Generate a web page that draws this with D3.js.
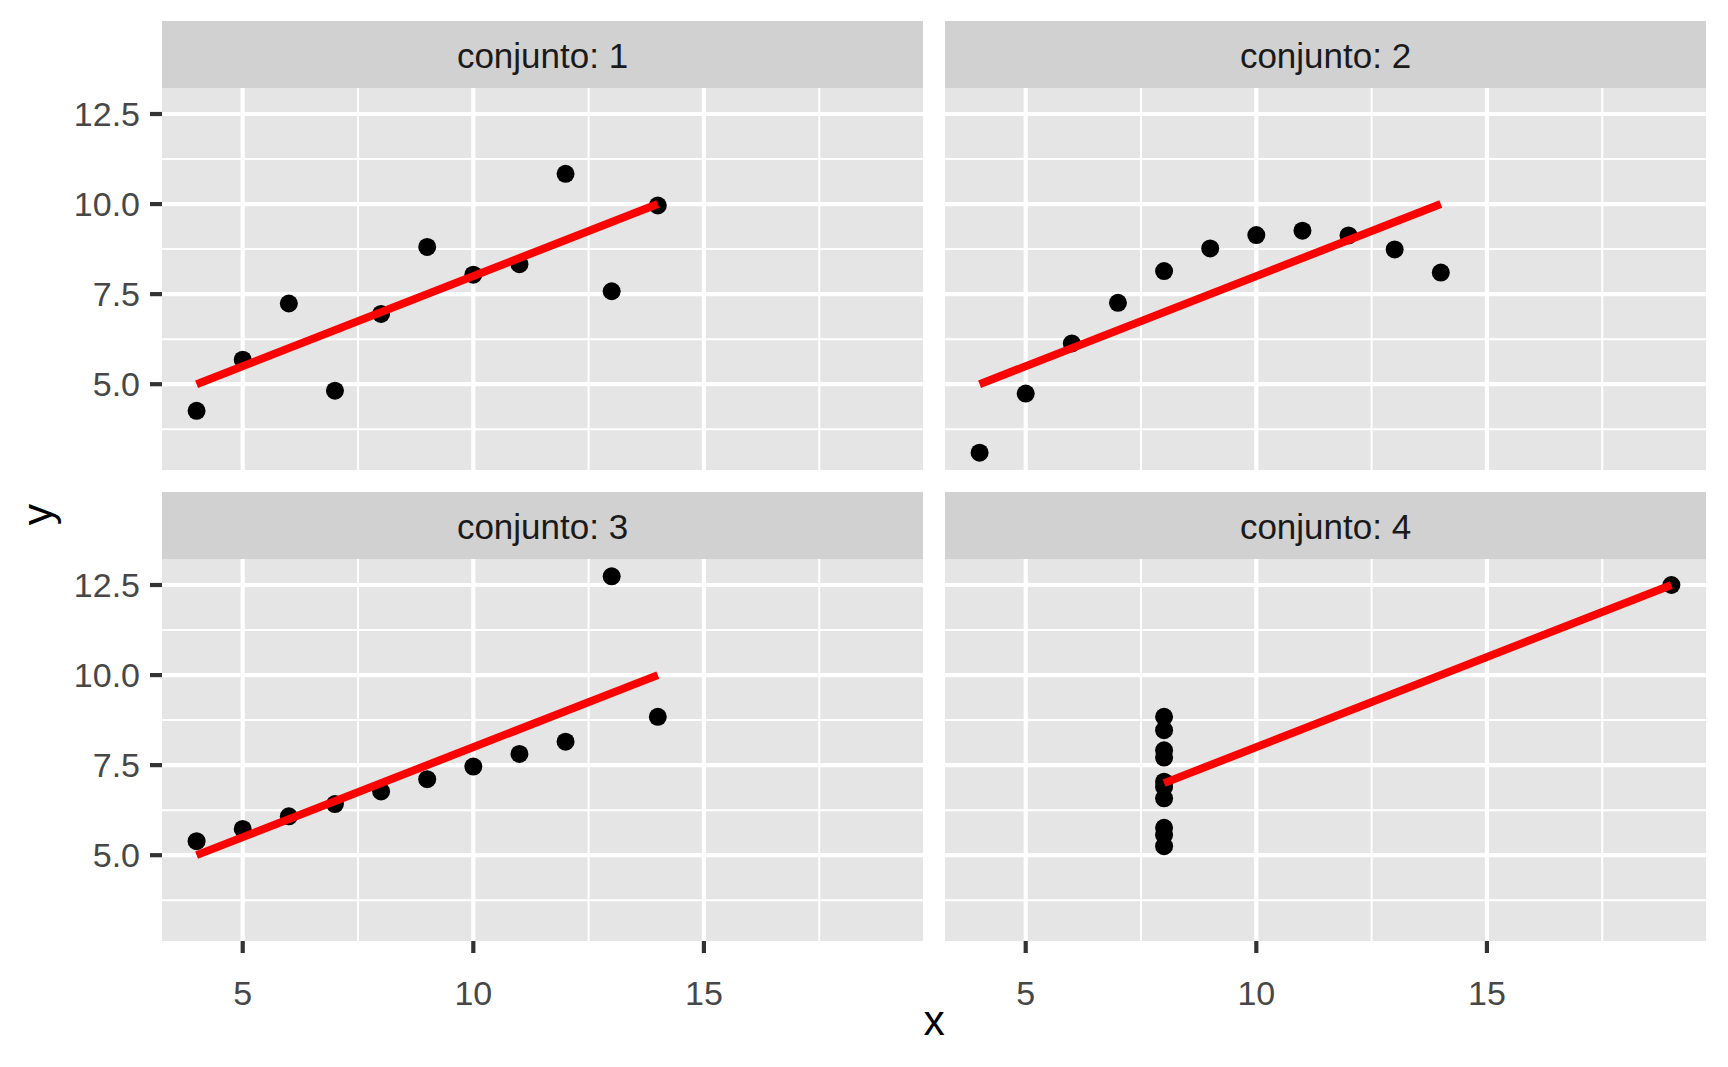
<!DOCTYPE html>
<html>
<head>
    <title>conjunto 1-4</title>
    <script src="https://d3js.org/d3.v7.min.js"></script>
    <style>
        body { margin: 0; background: #fff; }
        text { font-family: "Liberation Sans", Arial, sans-serif; }
    </style>
</head>
<body>
<div id="my_dataviz"></div>

<script>
    // data (Anscombe's quartet)
    var sets = ["1", "2", "3", "4"];
    var x123 = [10, 8, 13, 9, 11, 14, 6, 4, 12, 7, 5];
    var y1 = [8.04, 6.95, 7.58, 8.81, 8.33, 9.96, 7.24, 4.26, 10.84, 4.82, 5.68];
    var y2 = [9.14, 8.14, 8.74, 8.77, 9.26, 8.10, 6.13, 3.10, 9.13, 7.26, 4.74];
    var y3 = [7.46, 6.77, 12.74, 7.11, 7.81, 8.84, 6.08, 5.39, 8.15, 6.42, 5.73];
    var x4 = [8, 8, 8, 8, 8, 8, 8, 19, 8, 8, 8];
    var y4 = [6.58, 5.76, 7.71, 8.84, 8.47, 7.04, 5.25, 12.50, 5.56, 7.91, 6.89];

    var xTicks = [5, 10, 15];
    var xMinor = [7.5, 12.5, 17.5];
    var yTicks = [5, 7.5, 10, 12.5];
    var yMinor = [3.75, 6.25, 8.75, 11.25];
    var yLabels = ["5.0", "7.5", "10.0", "12.5"];

    var xs = [x123, x123, x123, x4];
    var ys = [y1, y2, y3, y4];

    // layout
    var W = 1728, H = 1067;
    var colLeft = [162, 945], rowTop = [21, 492];
    var panelW = 761, stripH = 67, panelH = 382;

    var svg = d3.select("#my_dataviz")
        .append("svg")
        .attr("width", W)
        .attr("height", H);

    // shared scales with ggplot style 5% expansion
    var allX = d3.merge(xs), allY = d3.merge(ys);
    var xe = d3.extent(allX), ye = d3.extent(allY);
    var xpad = (xe[1] - xe[0]) * 0.05, ypad = (ye[1] - ye[0]) * 0.05;

    var x = d3.scaleLinear()
        .domain([xe[0] - xpad, xe[1] + xpad])
        .range([0, panelW]);
    var y = d3.scaleLinear()
        .domain([ye[0] - ypad, ye[1] + ypad])
        .range([panelH, 0]);

    sets.forEach(function(s, i) {
        var col = i % 2, row = Math.floor(i / 2);
        var px = colLeft[col], py = rowTop[row];

        // strip
        svg.append("rect")
            .attr("x", px).attr("y", py)
            .attr("width", panelW).attr("height", stripH)
            .attr("fill", "#D1D1D1");
        svg.append("text")
            .attr("x", px + panelW / 2)
            .attr("y", py + stripH / 2 + 1)
            .attr("dy", "0.36em")
            .attr("text-anchor", "middle")
            .attr("font-size", 35)
            .attr("fill", "#1A1A1A")
            .text("conjunto: " + s);

        var g = svg.append("g")
            .attr("transform", "translate(" + px + "," + (py + stripH) + ")");

        g.append("rect")
            .attr("width", panelW).attr("height", panelH)
            .attr("fill", "#E5E5E5");

        // grid
        g.selectAll(".xminor").data(xMinor).enter().append("line")
            .attr("x1", d => x(d)).attr("x2", d => x(d))
            .attr("y1", 0).attr("y2", panelH)
            .attr("stroke", "#fff").attr("stroke-width", 2);
        g.selectAll(".yminor").data(yMinor).enter().append("line")
            .attr("x1", 0).attr("x2", panelW)
            .attr("y1", d => y(d)).attr("y2", d => y(d))
            .attr("stroke", "#fff").attr("stroke-width", 2);
        g.selectAll(".xmajor").data(xTicks).enter().append("line")
            .attr("x1", d => x(d)).attr("x2", d => x(d))
            .attr("y1", 0).attr("y2", panelH)
            .attr("stroke", "#fff").attr("stroke-width", 4.2);
        g.selectAll(".ymajor").data(yTicks).enter().append("line")
            .attr("x1", 0).attr("x2", panelW)
            .attr("y1", d => y(d)).attr("y2", d => y(d))
            .attr("stroke", "#fff").attr("stroke-width", 4.2);

        // points
        var pts = xs[i].map(function(v, k) { return {x: v, y: ys[i][k]}; });
        g.selectAll("circle").data(pts).enter().append("circle")
            .attr("cx", d => x(d.x))
            .attr("cy", d => y(d.y))
            .attr("r", 9)
            .attr("fill", "#000");

        // least squares line over the range of x
        var mx = d3.mean(xs[i]), my = d3.mean(ys[i]);
        var sxy = d3.sum(pts, d => (d.x - mx) * (d.y - my));
        var sxx = d3.sum(pts, d => (d.x - mx) * (d.x - mx));
        var b = sxy / sxx, a = my - b * mx;
        var ext = d3.extent(xs[i]);
        g.append("line")
            .attr("x1", x(ext[0])).attr("y1", y(a + b * ext[0]))
            .attr("x2", x(ext[1])).attr("y2", y(a + b * ext[1]))
            .attr("stroke", "#FF0000")
            .attr("stroke-width", 8);

        // y axis on left column
        if (col === 0) {
            yTicks.forEach(function(t, k) {
                g.append("line")
                    .attr("x1", -12).attr("x2", 0)
                    .attr("y1", y(t)).attr("y2", y(t))
                    .attr("stroke", "#333333").attr("stroke-width", 4.2);
                g.append("text")
                    .attr("x", -22).attr("y", y(t))
                    .attr("dy", "0.36em")
                    .attr("text-anchor", "end")
                    .attr("font-size", 34)
                    .attr("fill", "#474747")
                    .text(yLabels[k]);
            });
        }
        // x axis on bottom row
        if (row === 1) {
            xTicks.forEach(function(t) {
                g.append("line")
                    .attr("x1", x(t)).attr("x2", x(t))
                    .attr("y1", panelH).attr("y2", panelH + 12)
                    .attr("stroke", "#333333").attr("stroke-width", 4.2);
                g.append("text")
                    .attr("x", x(t)).attr("y", panelH + 64)
                    .attr("text-anchor", "middle")
                    .attr("font-size", 34)
                    .attr("fill", "#474747")
                    .text(t);
            });
        }
    });

    // axis titles
    svg.append("text")
        .attr("x", (colLeft[0] + colLeft[1] + panelW) / 2)
        .attr("y", 1035)
        .attr("text-anchor", "middle")
        .attr("font-size", 42.5)
        .attr("fill", "#000")
        .text("x");
    svg.append("text")
        .attr("transform", "translate(52," + ((rowTop[0] + stripH + rowTop[1] + stripH + panelH) / 2) + ") rotate(-90)")
        .attr("text-anchor", "middle")
        .attr("font-size", 42.5)
        .attr("fill", "#000")
        .text("y");
</script>
</body>
</html>
